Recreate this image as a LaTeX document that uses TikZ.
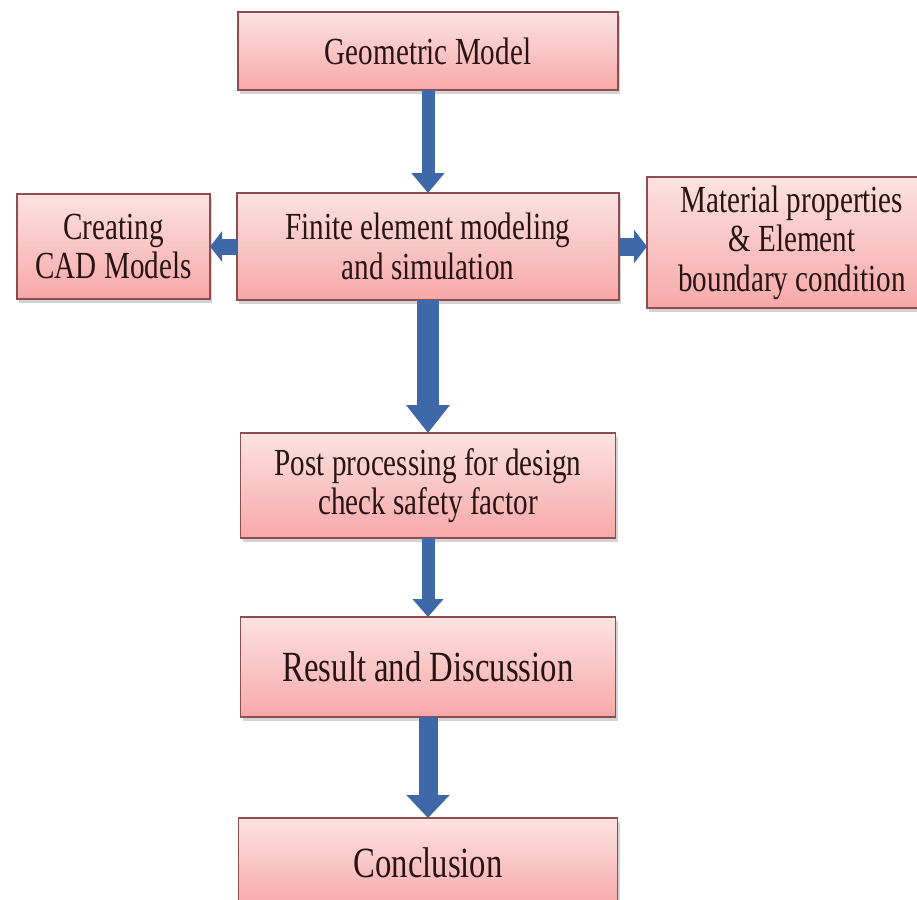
\documentclass[tikz,border=0pt]{standalone}
\usepackage{fontspec}
\setmainfont[FakeStretch=0.76]{Liberation Serif}
\usepackage{tikz}
\usetikzlibrary{arrows.meta,shapes,positioning,shadows}
\usepackage{xcolor}
\definecolor{fcborder}{RGB}{140,78,78}
\definecolor{fctop}{RGB}{252,226,226}
\definecolor{fcbottom}{RGB}{247,168,168}
\definecolor{fctext}{RGB}{40,20,20}
\definecolor{fcblue}{RGB}{62,104,168}
\tikzstyle{block} = [rectangle, align=center, draw=fcborder, thick, top color=fctop, bottom color=fcbottom, text=fctext, outer sep=0pt, inner sep=2pt, font=\fontsize{21.8}{22.5}\selectfont, drop shadow={shadow xshift=0.04cm, shadow yshift=-0.08cm, opacity=0.35}]
\tikzstyle{bigtext} = [font=\fontsize{24.5}{26}\selectfont]
\tikzstyle{flowarrow} = [draw=fcblue, color=fcblue]

\begin{document}
\begin{tikzpicture}
\useasboundingbox (0,0) rectangle (18.34,-17.98);

% Main column
\node (geo) [block, minimum width=7.6cm, minimum height=1.56cm] at (8.56,-1.02) {Geometric Model};
\node (fem) [block, minimum width=7.64cm, minimum height=2.14cm, below=2.06cm of geo] {Finite element modeling\\and simulation};
\node (post) [block, minimum width=7.5cm, minimum height=2.1cm, below=2.66cm of fem] {Post processing for design\\check safety factor};
\node (res) [block, bigtext, minimum width=7.5cm, minimum height=2cm, below=1.58cm of post] {Result and Discussion};
\node (conc) [block, bigtext, minimum width=7.58cm, minimum height=1.8cm, below=2.02cm of res] {Conclusion};

% Side boxes
\node (cad) [block, minimum width=3.86cm, minimum height=2.1cm, left=0.54cm of fem] {Creating\\CAD Models};
\node (mat) [block, minimum width=5.8cm, minimum height=2.62cm, right=0.56cm of fem, yshift=0.08cm] {Material properties\\\& Element\\boundary condition};

% Arrows
\draw[flowarrow, line width=0.26cm, -{Triangle[width=0.64cm,length=0.4cm]}] (geo) -- (fem);
\draw[flowarrow, line width=0.44cm, -{Triangle[width=0.84cm,length=0.56cm]}] (fem) -- (post);
\draw[flowarrow, line width=0.26cm, -{Triangle[width=0.6cm,length=0.36cm]}] (post) -- (res);
\draw[flowarrow, line width=0.38cm, -{Triangle[width=0.84cm,length=0.46cm]}] (res) -- (conc);
\draw[flowarrow, line width=0.32cm, -{Triangle[width=0.6cm,length=0.24cm]}] (fem) -- (cad);
\draw[flowarrow, line width=0.36cm, -{Triangle[width=0.66cm,length=0.26cm]}] (fem.east) -- (fem.east -| mat.west);
\end{tikzpicture}
\end{document}
